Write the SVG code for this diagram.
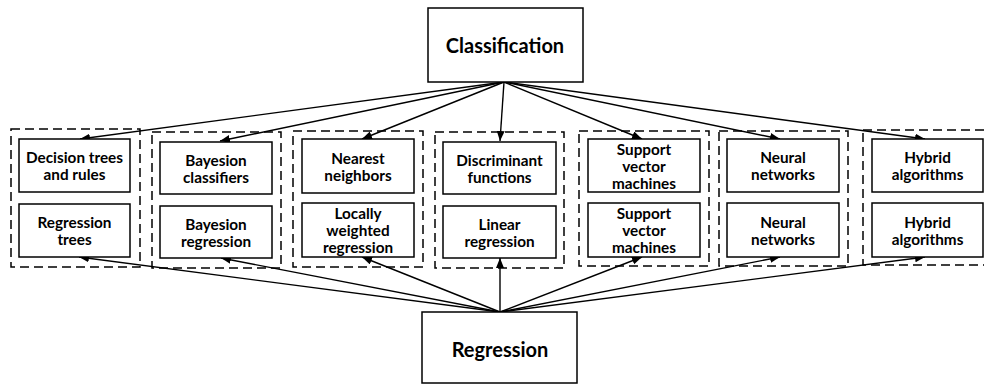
<svg xmlns="http://www.w3.org/2000/svg" width="984" height="386" viewBox="0 0 984 386">
<style>
.bg{fill:#fff}
.box{fill:#fff;stroke:#000;stroke-width:1.5}
.grp{fill:none;stroke:#000;stroke-width:1.5;stroke-dasharray:9,5}
.t{font-family:Lato,"Liberation Sans",sans-serif;font-weight:bold;font-size:15.3px;text-anchor:middle;dominant-baseline:central;fill:#000}
.big{font-size:20px}
.c{stroke:#000;stroke-width:1.4;fill:none;marker-end:url(#ah)}
</style>
<defs>
<marker id="ah" markerUnits="userSpaceOnUse" markerWidth="12" markerHeight="10" refX="10" refY="4" orient="auto">
<path d="M0,0 L10,4 L0,8 Z" fill="#000"/>
</marker>
</defs>
<rect class="bg" width="984" height="386"/>
<g id="groups">
<rect class="grp" x="11" y="129" width="129" height="138"/>
<rect class="grp" x="152" y="132" width="129" height="136"/>
<rect class="grp" x="293" y="131" width="130" height="136"/>
<rect class="grp" x="435" y="132" width="129" height="136"/>
<rect class="grp" x="579" y="131" width="130" height="135"/>
<rect class="grp" x="719" y="131" width="129" height="135"/>
<rect class="grp" x="863" y="130" width="130" height="135"/>
</g>
<g id="connectors">
<line class="c" x1="504" y1="82" x2="80" y2="139"/>
<line class="c" x1="504" y1="82" x2="220" y2="141"/>
<line class="c" x1="504" y1="82" x2="362" y2="139"/>
<line class="c" x1="504" y1="82" x2="500" y2="141"/>
<line class="c" x1="504" y1="82" x2="642" y2="139"/>
<line class="c" x1="504" y1="82" x2="780" y2="139"/>
<line class="c" x1="504" y1="82" x2="925" y2="139"/>
<line class="c" x1="500" y1="312" x2="79" y2="257"/>
<line class="c" x1="500" y1="312" x2="221" y2="258"/>
<line class="c" x1="500" y1="312" x2="362" y2="257"/>
<line class="c" x1="500" y1="312" x2="500" y2="258"/>
<line class="c" x1="500" y1="312" x2="642" y2="257"/>
<line class="c" x1="500" y1="312" x2="780" y2="257"/>
<line class="c" x1="500" y1="312" x2="925" y2="257"/>
</g>
<g id="classification">
<rect class="box" x="428" y="8" width="155" height="74"/>
<text class="t big" x="505" y="45">Classification</text>
</g>
<g id="regression">
<rect class="box" x="422" y="312" width="155" height="71"/>
<text class="t big" x="500" y="349">Regression</text>
</g>
<g id="decision-trees">
<rect class="box" x="19" y="139" width="111" height="53"/>
<text class="t" x="74.5" y="157">Decision trees</text>
<text class="t" x="74.5" y="174">and rules</text>
</g>
<g id="regression-trees">
<rect class="box" x="19" y="204" width="111" height="53"/>
<text class="t" x="74.5" y="222">Regression</text>
<text class="t" x="74.5" y="239">trees</text>
</g>
<g id="bayesion-classifiers">
<rect class="box" x="160" y="142" width="112" height="52"/>
<text class="t" x="216" y="159.5">Bayesion</text>
<text class="t" x="216" y="176.5">classifiers</text>
</g>
<g id="bayesion-regression">
<rect class="box" x="160" y="206" width="112" height="52"/>
<text class="t" x="216" y="223.5">Bayesion</text>
<text class="t" x="216" y="240.5">regression</text>
</g>
<g id="nearest-neighbors">
<rect class="box" x="302" y="139" width="112" height="54"/>
<text class="t" x="358" y="157.5">Nearest</text>
<text class="t" x="358" y="174.5">neighbors</text>
</g>
<g id="locally-weighted">
<rect class="box" x="302" y="203" width="112" height="54"/>
<text class="t" x="358" y="213">Locally</text>
<text class="t" x="358" y="230">weighted</text>
<text class="t" x="358" y="247">regression</text>
</g>
<g id="discriminant">
<rect class="box" x="443" y="142" width="113" height="52"/>
<text class="t" x="499.5" y="159.5">Discriminant</text>
<text class="t" x="499.5" y="176.5">functions</text>
</g>
<g id="linear-regression">
<rect class="box" x="443" y="206" width="113" height="52"/>
<text class="t" x="499.5" y="223.5">Linear</text>
<text class="t" x="499.5" y="240.5">regression</text>
</g>
<g id="svm-c">
<rect class="box" x="588" y="139" width="112" height="53"/>
<text class="t" x="644" y="149">Support</text>
<text class="t" x="644" y="166">vector</text>
<text class="t" x="644" y="183">machines</text>
</g>
<g id="svm-r">
<rect class="box" x="588" y="203" width="112" height="54"/>
<text class="t" x="644" y="213">Support</text>
<text class="t" x="644" y="230">vector</text>
<text class="t" x="644" y="247">machines</text>
</g>
<g id="nn-c">
<rect class="box" x="727" y="139" width="112" height="53"/>
<text class="t" x="783" y="157">Neural</text>
<text class="t" x="783" y="174">networks</text>
</g>
<g id="nn-r">
<rect class="box" x="727" y="203" width="112" height="54"/>
<text class="t" x="783" y="221.5">Neural</text>
<text class="t" x="783" y="238.5">networks</text>
</g>
<g id="hybrid-c">
<rect class="box" x="872" y="139" width="111" height="53"/>
<text class="t" x="927.5" y="157">Hybrid</text>
<text class="t" x="927.5" y="174">algorithms</text>
</g>
<g id="hybrid-r">
<rect class="box" x="872" y="203" width="111" height="54"/>
<text class="t" x="927.5" y="221.5">Hybrid</text>
<text class="t" x="927.5" y="238.5">algorithms</text>
</g>
</svg>
